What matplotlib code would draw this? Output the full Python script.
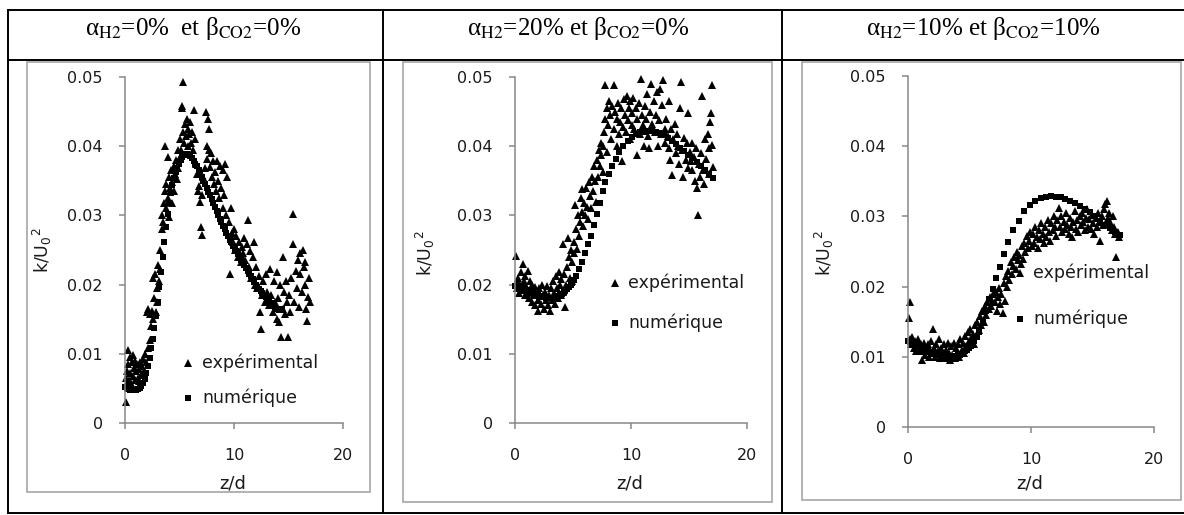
import numpy as np
import matplotlib
matplotlib.use('Agg')
import matplotlib.pyplot as plt
from matplotlib.lines import Line2D
from matplotlib.patches import Rectangle

plt.rcParams['font.family'] = ['DejaVu Sans']

W, H = 1184, 515

titles = ['α$_{\\mathrm{H2}}$=0%  et β$_{\\mathrm{CO2}}$=0%',
          'α$_{\\mathrm{H2}}$=20% et β$_{\\mathrm{CO2}}$=0%',
          'α$_{\\mathrm{H2}}$=10% et β$_{\\mathrm{CO2}}$=10%']
xticks = [0, 10, 20]
yticks = [0, 0.01, 0.02, 0.03, 0.04, 0.05]
ytick_labels = ['0', '0.01', '0.02', '0.03', '0.04', '0.05']
xlabel = 'z/d'
ylabel = 'k/U$_0$$^2$'
legend_labels = ['expérimental', 'numérique']

# panel 1 : alpha=0, beta=0  (z/d, k/U0^2)
num1 = [(0.0, 0.0052), (0.15, 0.0050), (0.3, 0.0049), (0.45, 0.0048), (0.6, 0.0048), (0.75, 0.0047),
        (0.9, 0.0047), (1.05, 0.0048), (1.2, 0.0049), (1.35, 0.0051), (1.5, 0.0054), (1.65, 0.0058),
        (1.8, 0.0064), (1.95, 0.0072), (2.1, 0.0082), (2.25, 0.0094), (2.4, 0.0108), (2.55, 0.0122),
        (2.7, 0.0138), (2.85, 0.0155), (3.0, 0.0175), (3.15, 0.0196), (3.3, 0.0218), (3.45, 0.0240),
        (3.6, 0.0262), (3.75, 0.0283), (3.9, 0.0302), (4.05, 0.0318), (4.2, 0.0332), (4.35, 0.0344),
        (4.5, 0.0354), (4.65, 0.0362), (4.8, 0.0369), (4.95, 0.0375), (5.1, 0.0380), (5.25, 0.0384),
        (5.4, 0.0387), (5.55, 0.0389), (5.7, 0.0389), (5.85, 0.0388), (6.0, 0.0386), (6.15, 0.0383),
        (6.3, 0.0379), (6.45, 0.0375), (6.6, 0.0371), (6.75, 0.0366), (6.9, 0.0361), (7.05, 0.0356),
        (7.2, 0.0350), (7.35, 0.0345), (7.5, 0.0340), (7.65, 0.0334), (7.8, 0.0329), (7.95, 0.0323),
        (8.1, 0.0318), (8.25, 0.0312), (8.4, 0.0306), (8.55, 0.0301), (8.7, 0.0295), (8.85, 0.0290),
        (9.0, 0.0285), (9.15, 0.0280), (9.3, 0.0275), (9.45, 0.0270), (9.6, 0.0265), (9.75, 0.0261),
        (9.9, 0.0256), (10.05, 0.0252), (10.2, 0.0248), (10.35, 0.0244), (10.5, 0.0240), (10.65, 0.0236),
        (10.8, 0.0232), (10.95, 0.0228), (11.1, 0.0224), (11.25, 0.0220), (11.4, 0.0216), (11.55, 0.0212),
        (11.7, 0.0208), (11.85, 0.0204), (12.0, 0.0200), (12.15, 0.0197), (12.3, 0.0194), (12.45, 0.0191),
        (12.6, 0.0188), (12.75, 0.0185), (12.9, 0.0182), (13.05, 0.0179), (13.2, 0.0176), (13.35, 0.0174),
        (13.5, 0.0171), (13.65, 0.0169), (13.8, 0.0167), (13.95, 0.0165), (14.1, 0.0164), (14.25, 0.0164),
        (14.4, 0.0165)]
exp1 = [(0.05, 0.0030), (0.1, 0.0065), (0.15, 0.0058), (0.2, 0.0075), (0.25, 0.0105), (0.3, 0.0085),
        (0.35, 0.0062), (0.45, 0.0095), (0.5, 0.0072), (0.55, 0.0058), (0.6, 0.0088), (0.7, 0.0068),
        (0.75, 0.0098), (0.8, 0.0080), (0.9, 0.0062), (0.95, 0.0090), (1.0, 0.0075), (1.1, 0.0085),
        (1.15, 0.0065), (1.25, 0.0078), (1.3, 0.0060), (1.4, 0.0088), (1.5, 0.0070), (1.55, 0.0082),
        (1.65, 0.0092), (1.75, 0.0075), (1.85, 0.0100), (1.95, 0.0088),
        (2.0, 0.0160), (2.1, 0.0108), (2.15, 0.0165), (2.25, 0.0120), (2.3, 0.0158), (2.4, 0.0140),
        (2.5, 0.0162), (2.55, 0.0150), (2.6, 0.0210), (2.65, 0.0180), (2.75, 0.0215), (2.8, 0.0160),
        (2.9, 0.0195), (2.95, 0.0175),
        (3.05, 0.0228), (3.1, 0.0205), (3.2, 0.0250), (3.25, 0.0222), (3.35, 0.0280), (3.4, 0.0300),
        (3.5, 0.0290), (3.55, 0.0318), (3.65, 0.0335), (3.7, 0.0400), (3.75, 0.0310), (3.8, 0.0345),
        (3.9, 0.0325), (3.95, 0.0385), (4.0, 0.0355),
        (4.05, 0.0298), (4.1, 0.0340), (4.2, 0.0365), (4.3, 0.0318), (4.35, 0.0348), (4.45, 0.0372),
        (4.5, 0.0335), (4.6, 0.0360), (4.7, 0.0380), (4.75, 0.0352), (4.85, 0.0395), (4.9, 0.0368),
        (5.0, 0.0385),
        (5.05, 0.0410), (5.15, 0.0395), (5.2, 0.0458), (5.25, 0.0455), (5.3, 0.0493), (5.35, 0.0420),
        (5.45, 0.0405), (5.5, 0.0432), (5.6, 0.0415), (5.65, 0.0440), (5.75, 0.0425), (5.8, 0.0400),
        (5.9, 0.0418), (5.95, 0.0435),
        (6.05, 0.0405), (6.15, 0.0420), (6.25, 0.0395), (6.35, 0.0452), (6.45, 0.0410), (6.55, 0.0375),
        (6.65, 0.0360), (6.7, 0.0335), (6.8, 0.0342), (6.9, 0.0320), (6.95, 0.0283), (7.05, 0.0272),
        (7.1, 0.0330),
        (7.2, 0.0355), (7.3, 0.0368), (7.4, 0.0449), (7.5, 0.0400), (7.55, 0.0382), (7.6, 0.0440),
        (7.7, 0.0425), (7.75, 0.0395), (7.8, 0.0370), (7.9, 0.0390), (7.95, 0.0355),
        (8.05, 0.0378), (8.15, 0.0345), (8.25, 0.0362), (8.35, 0.0335), (8.45, 0.0378), (8.55, 0.0350),
        (8.65, 0.0325), (8.75, 0.0372), (8.85, 0.0340), (8.95, 0.0310), (9.0, 0.0365),
        (9.1, 0.0330), (9.2, 0.0375), (9.3, 0.0300), (9.4, 0.0355), (9.5, 0.0290), (9.6, 0.0216),
        (9.7, 0.0310), (9.8, 0.0275), (9.9, 0.0262),
        (10.0, 0.0280), (10.1, 0.0250), (10.2, 0.0270), (10.35, 0.0240), (10.45, 0.0262), (10.6, 0.0232),
        (10.7, 0.0255), (10.8, 0.0245), (10.95, 0.0268),
        (11.05, 0.0235), (11.15, 0.0258), (11.3, 0.0293), (11.4, 0.0225), (11.5, 0.0248), (11.6, 0.0210),
        (11.7, 0.0240), (11.8, 0.0262), (11.95, 0.0200),
        (12.05, 0.0225), (12.15, 0.0195), (12.3, 0.0212), (12.4, 0.0160), (12.5, 0.0136), (12.6, 0.0185),
        (12.7, 0.0205), (12.85, 0.0175), (12.95, 0.0215),
        (13.05, 0.0190), (13.2, 0.0170), (13.3, 0.0222), (13.4, 0.0185), (13.55, 0.0160), (13.65, 0.0205),
        (13.75, 0.0175), (13.9, 0.0218), (13.95, 0.0150),
        (14.05, 0.0180), (14.15, 0.0146), (14.25, 0.0200), (14.35, 0.0124), (14.45, 0.0165), (14.5, 0.0240),
        (14.6, 0.0190), (14.7, 0.0158), (14.8, 0.0205), (14.9, 0.0175), (14.95, 0.0124),
        (15.05, 0.0185), (15.15, 0.0160), (15.25, 0.0210), (15.4, 0.0302), (15.45, 0.0259), (15.55, 0.0175),
        (15.65, 0.0220), (15.75, 0.0195), (15.85, 0.0235), (15.95, 0.0168),
        (16.05, 0.0215), (16.1, 0.0245), (16.2, 0.0190), (16.3, 0.0250), (16.4, 0.0225), (16.5, 0.0200),
        (16.55, 0.0232), (16.65, 0.0165), (16.7, 0.0148), (16.8, 0.0182), (16.9, 0.0210), (17.0, 0.0175)]

# panel 2 : alpha=20%, beta=0
num2 = [(0.0, 0.0198), (0.15, 0.0198), (0.3, 0.0197), (0.45, 0.0196), (0.6, 0.0195), (0.75, 0.0194),
        (0.9, 0.0193), (1.05, 0.0192), (1.2, 0.0190), (1.35, 0.0189), (1.5, 0.0188), (1.65, 0.0187),
        (1.8, 0.0186), (1.95, 0.0185), (2.1, 0.0184), (2.25, 0.0183), (2.4, 0.0182), (2.55, 0.0182),
        (2.7, 0.0181), (2.85, 0.0181), (3.0, 0.0181), (3.15, 0.0181), (3.3, 0.0181), (3.45, 0.0182),
        (3.6, 0.0183), (3.75, 0.0184), (3.9, 0.0185), (4.05, 0.0187), (4.2, 0.0189), (4.35, 0.0191),
        (4.5, 0.0193), (4.65, 0.0196), (4.8, 0.0199), (4.95, 0.0203), (5.1, 0.0207), (5.3, 0.0213),
        (5.55, 0.0222), (5.8, 0.0232), (6.05, 0.0245), (6.3, 0.0258), (6.55, 0.0270), (6.8, 0.0286),
        (7.05, 0.0302), (7.3, 0.0318), (7.55, 0.0335), (7.8, 0.0348), (8.1, 0.0360), (8.4, 0.0372),
        (8.7, 0.0382), (9.0, 0.0392), (9.35, 0.0400), (9.7, 0.0408), (10.05, 0.0414), (10.4, 0.0418),
        (10.75, 0.0420), (11.1, 0.0421), (11.45, 0.0422), (11.8, 0.0422), (12.15, 0.0421), (12.5, 0.0419),
        (12.85, 0.0416), (13.2, 0.0412), (13.55, 0.0408), (13.9, 0.0403), (14.25, 0.0398), (14.6, 0.0393),
        (14.95, 0.0388), (15.3, 0.0383), (15.65, 0.0377), (16.0, 0.0371), (16.35, 0.0365), (16.7, 0.0360),
        (17.1, 0.0354)]
exp2 = [(0.1, 0.0242), (0.15, 0.0205), (0.2, 0.0195), (0.3, 0.0210), (0.35, 0.0188), (0.45, 0.0200),
        (0.5, 0.0218), (0.6, 0.0192), (0.7, 0.0230), (0.75, 0.0205), (0.85, 0.0185), (0.9, 0.0212),
        (0.95, 0.0198),
        (1.05, 0.0188), (1.1, 0.0220), (1.2, 0.0180), (1.3, 0.0205), (1.35, 0.0192), (1.45, 0.0175),
        (1.5, 0.0200), (1.6, 0.0185), (1.7, 0.0196), (1.75, 0.0170), (1.85, 0.0188), (1.95, 0.0178),
        (2.0, 0.0162), (2.05, 0.0195), (2.15, 0.0183), (2.25, 0.0172), (2.35, 0.0200), (2.4, 0.0185),
        (2.5, 0.0165), (2.6, 0.0190), (2.7, 0.0178), (2.75, 0.0198), (2.85, 0.0170), (2.95, 0.0185),
        (3.05, 0.0162), (3.1, 0.0195), (3.2, 0.0178), (3.3, 0.0205), (3.35, 0.0188), (3.45, 0.0172),
        (3.5, 0.0212), (3.6, 0.0195), (3.7, 0.0180), (3.75, 0.0218), (3.85, 0.0200), (3.95, 0.0185),
        (4.0, 0.0208), (4.1, 0.0190), (4.15, 0.0258), (4.25, 0.0215), (4.3, 0.0168), (4.4, 0.0200),
        (4.5, 0.0225), (4.55, 0.0268), (4.65, 0.0240), (4.75, 0.0210), (4.85, 0.0250), (4.9, 0.0232),
        (4.95, 0.0205),
        (5.05, 0.0245), (5.1, 0.0262), (5.2, 0.0315), (5.25, 0.0280), (5.35, 0.0252), (5.45, 0.0300),
        (5.5, 0.0270), (5.6, 0.0290), (5.65, 0.0325), (5.75, 0.0305), (5.8, 0.0338), (5.9, 0.0285),
        (5.95, 0.0318),
        (6.05, 0.0300), (6.15, 0.0340), (6.2, 0.0312), (6.3, 0.0295), (6.4, 0.0348), (6.5, 0.0328),
        (6.55, 0.0310), (6.65, 0.0355), (6.75, 0.0335), (6.85, 0.0372), (6.9, 0.0350), (6.95, 0.0320),
        (7.05, 0.0380), (7.15, 0.0355), (7.2, 0.0395), (7.3, 0.0372), (7.4, 0.0405), (7.45, 0.0388),
        (7.55, 0.0362), (7.6, 0.0400), (7.7, 0.0420), (7.75, 0.0440), (7.8, 0.0488), (7.9, 0.0455),
        (7.95, 0.0392),
        (8.05, 0.0430), (8.1, 0.0465), (8.2, 0.0445), (8.3, 0.0410), (8.4, 0.0458), (8.5, 0.0488),
        (8.55, 0.0425), (8.65, 0.0450), (8.75, 0.0400), (8.8, 0.0440), (8.9, 0.0462), (8.95, 0.0418),
        (9.05, 0.0435), (9.15, 0.0455), (9.2, 0.0378), (9.3, 0.0428), (9.4, 0.0468), (9.5, 0.0445),
        (9.6, 0.0420), (9.65, 0.0472), (9.75, 0.0438), (9.85, 0.0455), (9.9, 0.0410), (9.95, 0.0465),
        (10.05, 0.0430), (10.1, 0.0448), (10.2, 0.0470), (10.3, 0.0425), (10.4, 0.0455), (10.5, 0.0388),
        (10.55, 0.0440), (10.65, 0.0462), (10.75, 0.0418), (10.85, 0.0497), (10.95, 0.0445),
        (11.05, 0.0430), (11.1, 0.0400), (11.2, 0.0458), (11.3, 0.0440), (11.4, 0.0475), (11.5, 0.0415),
        (11.55, 0.0398), (11.65, 0.0450), (11.75, 0.0490), (11.85, 0.0432), (11.95, 0.0465),
        (12.05, 0.0420), (12.15, 0.0445), (12.25, 0.0478), (12.35, 0.0400), (12.45, 0.0438), (12.5, 0.0482),
        (12.6, 0.0418), (12.7, 0.0460), (12.8, 0.0495), (12.9, 0.0425), (12.95, 0.0405),
        (13.05, 0.0440), (13.15, 0.0415), (13.25, 0.0398), (13.3, 0.0465), (13.4, 0.0380), (13.45, 0.0425),
        (13.55, 0.0358), (13.65, 0.0410), (13.75, 0.0432), (13.85, 0.0390), (13.95, 0.0418),
        (14.05, 0.0400), (14.1, 0.0375), (14.2, 0.0455), (14.3, 0.0493), (14.4, 0.0395), (14.5, 0.0355),
        (14.6, 0.0412), (14.7, 0.0380), (14.8, 0.0405), (14.9, 0.0448), (14.95, 0.0368),
        (15.05, 0.0392), (15.15, 0.0378), (15.25, 0.0405), (15.3, 0.0365), (15.4, 0.0385), (15.5, 0.0350),
        (15.6, 0.0398), (15.7, 0.0340), (15.75, 0.0300), (15.85, 0.0375), (15.95, 0.0355),
        (16.05, 0.0390), (16.1, 0.0472), (16.2, 0.0365), (16.3, 0.0345), (16.4, 0.0410), (16.5, 0.0382),
        (16.6, 0.0418), (16.7, 0.0360), (16.75, 0.0398), (16.85, 0.0435), (16.9, 0.0448), (16.95, 0.0488),
        (17.0, 0.0402), (17.05, 0.0370)]

# panel 3 : alpha=10%, beta=10%
num3 = [(0.0, 0.0122), (0.15, 0.0121), (0.3, 0.0120), (0.45, 0.0118), (0.6, 0.0117), (0.75, 0.0116),
        (0.9, 0.0114), (1.05, 0.0113), (1.2, 0.0112), (1.35, 0.0110), (1.5, 0.0109), (1.65, 0.0108),
        (1.8, 0.0107), (1.95, 0.0105), (2.1, 0.0104), (2.25, 0.0103), (2.4, 0.0102), (2.55, 0.0102),
        (2.7, 0.0101), (2.85, 0.0100), (3.0, 0.0100), (3.15, 0.0100), (3.3, 0.0100), (3.45, 0.0100),
        (3.6, 0.0100), (3.75, 0.0100), (3.9, 0.0101), (4.05, 0.0102), (4.2, 0.0103), (4.35, 0.0104),
        (4.5, 0.0106), (4.65, 0.0108), (4.8, 0.0110), (4.95, 0.0112), (5.1, 0.0115), (5.25, 0.0118),
        (5.4, 0.0122), (5.6, 0.0128), (5.8, 0.0135), (6.1, 0.0150), (6.35, 0.0165), (6.6, 0.0182),
        (6.9, 0.0197), (7.15, 0.0212), (7.45, 0.0228), (7.8, 0.0246), (8.15, 0.0264), (8.55, 0.0280),
        (9.0, 0.0294), (9.45, 0.0307), (9.9, 0.0316), (10.35, 0.0322), (10.8, 0.0326), (11.2, 0.0328),
        (11.6, 0.0329), (12.0, 0.0328), (12.4, 0.0327), (12.8, 0.0325), (13.2, 0.0322), (13.6, 0.0319),
        (14.0, 0.0315), (14.4, 0.0311), (14.8, 0.0306), (15.2, 0.0300), (15.6, 0.0294), (16.0, 0.0288),
        (16.4, 0.0283), (16.8, 0.0278), (17.2, 0.0274)]
exp3 = [(0.1, 0.0155), (0.2, 0.0178), (0.15, 0.0125), (0.25, 0.0118), (0.35, 0.0128), (0.45, 0.0112),
        (0.55, 0.0122), (0.65, 0.0108), (0.75, 0.0118), (0.85, 0.0125), (0.95, 0.0110),
        (1.05, 0.0118), (1.1, 0.0095), (1.2, 0.0108), (1.3, 0.0120), (1.4, 0.0102), (1.5, 0.0112),
        (1.6, 0.0118), (1.7, 0.0100), (1.8, 0.0110), (1.9, 0.0122), (1.95, 0.0105),
        (2.0, 0.0140), (2.1, 0.0112), (2.2, 0.0100), (2.3, 0.0118), (2.4, 0.0108), (2.5, 0.0125),
        (2.6, 0.0098), (2.7, 0.0112), (2.8, 0.0104), (2.9, 0.0118), (2.95, 0.0100),
        (3.05, 0.0110), (3.15, 0.0098), (3.25, 0.0120), (3.35, 0.0105), (3.45, 0.0095), (3.5, 0.0115),
        (3.6, 0.0102), (3.7, 0.0120), (3.8, 0.0098), (3.9, 0.0112), (3.95, 0.0105),
        (4.05, 0.0118), (4.15, 0.0100), (4.25, 0.0125), (4.35, 0.0110), (4.45, 0.0120), (4.55, 0.0105),
        (4.65, 0.0130), (4.75, 0.0115), (4.85, 0.0135), (4.95, 0.0122),
        (5.05, 0.0140), (5.15, 0.0125), (5.25, 0.0132), (5.35, 0.0118), (5.45, 0.0145), (5.55, 0.0130),
        (5.65, 0.0150), (5.75, 0.0138), (5.85, 0.0158), (5.95, 0.0145),
        (6.05, 0.0165), (6.15, 0.0150), (6.25, 0.0172), (6.35, 0.0160), (6.45, 0.0178), (6.55, 0.0168),
        (6.65, 0.0185), (6.75, 0.0172), (6.85, 0.0180), (6.95, 0.0190),
        (7.05, 0.0178), (7.15, 0.0192), (7.2, 0.0165), (7.3, 0.0185), (7.4, 0.0198), (7.5, 0.0175),
        (7.6, 0.0190), (7.7, 0.0162), (7.8, 0.0205), (7.9, 0.0180), (7.95, 0.0215),
        (8.05, 0.0200), (8.15, 0.0222), (8.25, 0.0210), (8.35, 0.0235), (8.45, 0.0218), (8.55, 0.0230),
        (8.65, 0.0242), (8.75, 0.0225), (8.85, 0.0250), (8.95, 0.0238),
        (9.05, 0.0245), (9.15, 0.0232), (9.25, 0.0258), (9.35, 0.0240), (9.45, 0.0262), (9.55, 0.0250),
        (9.65, 0.0272), (9.75, 0.0255), (9.85, 0.0265), (9.95, 0.0278),
        (10.05, 0.0258), (10.15, 0.0275), (10.25, 0.0262), (10.35, 0.0285), (10.45, 0.0270), (10.55, 0.0255),
        (10.65, 0.0280), (10.75, 0.0268), (10.85, 0.0290), (10.95, 0.0275),
        (11.05, 0.0262), (11.15, 0.0285), (11.25, 0.0270), (11.35, 0.0295), (11.45, 0.0278), (11.55, 0.0265),
        (11.65, 0.0290), (11.75, 0.0280), (11.85, 0.0300), (11.95, 0.0285),
        (12.05, 0.0272), (12.15, 0.0295), (12.25, 0.0312), (12.35, 0.0285), (12.45, 0.0300), (12.55, 0.0278),
        (12.65, 0.0292), (12.75, 0.0282), (12.85, 0.0305), (12.95, 0.0288),
        (13.05, 0.0275), (13.15, 0.0298), (13.25, 0.0285), (13.35, 0.0270), (13.45, 0.0292), (13.55, 0.0308),
        (13.65, 0.0282), (13.75, 0.0295), (13.85, 0.0278), (13.95, 0.0300),
        (14.05, 0.0288), (14.15, 0.0305), (14.25, 0.0292), (14.35, 0.0280), (14.45, 0.0298), (14.55, 0.0310),
        (14.65, 0.0285), (14.75, 0.0296), (14.85, 0.0282), (14.95, 0.0302),
        (15.05, 0.0290), (15.15, 0.0275), (15.25, 0.0298), (15.35, 0.0285), (15.45, 0.0305), (15.55, 0.0292),
        (15.65, 0.0265), (15.75, 0.0300), (15.85, 0.0288), (15.95, 0.0310),
        (16.05, 0.0318), (16.15, 0.0322), (16.25, 0.0298), (16.35, 0.0305), (16.45, 0.0292), (16.55, 0.0280),
        (16.65, 0.0300), (16.75, 0.0285), (16.85, 0.0275), (16.95, 0.0242), (17.05, 0.0278), (17.15, 0.0270)]

panels = [(exp1, num1), (exp2, num2), (exp3, num3)]

# layout in pixels of the original picture
axes_px = [(125, 77, 343, 423), (515, 77, 747, 423), (908, 76, 1154, 427)]   # x0, ytop, x1, ybottom
frames_px = [(27, 62, 370, 492), (403, 62, 772, 502), (802, 62, 1181, 500)]
title_x = [193, 578, 983]
xlab_px = [(233, 483), (630, 483), (1030, 483)]
ylab_px = [(42, 250), (425, 253), (824, 253)]
leg_px = [(188, 363, 398, 202), (615, 283, 323, 628), (1020, 273, 319, 1033)]  # marker x, y exp, y num, text x

def fx(p):
    return p / W

def fy(p):
    return 1 - p / H

fig = plt.figure(figsize=(W / 100, H / 100), dpi=100)
fig.patch.set_facecolor('white')

# table grid
line_kw = dict(color='black', lw=1.4, transform=fig.transFigure)
for yy in (10, 60, 513):
    fig.add_artist(Line2D([fx(8), 1], [fy(yy), fy(yy)], **line_kw))
for xx in (8, 383, 782):
    fig.add_artist(Line2D([fx(xx), fx(xx)], [fy(10), fy(513)], **line_kw))

tcol = '#1a1a1a'
spine_col = '#878787'

for i, (exp, num) in enumerate(panels):
    fig.text(fx(title_x[i]), fy(29), titles[i], ha='center', va='center', fontsize=18,
             family='Liberation Serif', math_fontfamily='stix', color='black')

    x0, y0, x1, y1 = frames_px[i]
    fig.add_artist(Rectangle((fx(x0), fy(y1)), fx(x1 - x0), (y1 - y0) / H, fill=False,
                             edgecolor='#a6a6a6', lw=1.2, transform=fig.transFigure))

    a0, at, a1, ab = axes_px[i]
    ax = fig.add_axes([fx(a0), fy(ab), fx(a1 - a0), (ab - at) / H])
    ex = np.array(exp)
    nu = np.array(num)
    ax.plot(nu[:, 0], nu[:, 1], 's', color='black', ms=4.5, mew=0, clip_on=False)
    ax.plot(ex[:, 0], ex[:, 1], '^', color='black', ms=6, mew=0, clip_on=False)

    ax.set_xlim(0, 20)
    ax.set_ylim(0, 0.05)
    ax.set_xticks(xticks)
    ax.set_yticks(yticks)
    ax.set_yticklabels(ytick_labels)
    for s in ('top', 'right'):
        ax.spines[s].set_visible(False)
    for s in ('left', 'bottom'):
        ax.spines[s].set_color(spine_col)
        ax.spines[s].set_linewidth(1.1)
    ax.tick_params(axis='y', direction='out', length=4, width=1.1, color=spine_col,
                   labelsize=11.5, labelcolor=tcol, pad=12)
    ax.tick_params(axis='x', direction='out', length=4, width=1.1, color=spine_col,
                   labelsize=11.5, labelcolor=tcol, pad=14)
    ax.patch.set_alpha(0)

    fig.text(fx(xlab_px[i][0]), fy(xlab_px[i][1]), xlabel, ha='center', va='center',
             fontsize=13, color=tcol)
    fig.text(fx(ylab_px[i][0]), fy(ylab_px[i][1]), ylabel, ha='center', va='center',
             rotation=90, fontsize=12.5, color=tcol, math_fontfamily='dejavusans')

    mx, ye, yn, tx = leg_px[i]
    fig.add_artist(Line2D([fx(mx)], [fy(ye)], marker='^', ms=6, color='black', mew=0,
                          transform=fig.transFigure))
    fig.add_artist(Line2D([fx(mx)], [fy(yn)], marker='s', ms=4.5, color='black', mew=0,
                          transform=fig.transFigure))
    fig.text(fx(tx), fy(ye), legend_labels[0], ha='left', va='center', fontsize=12.5, color=tcol)
    fig.text(fx(tx), fy(yn), legend_labels[1], ha='left', va='center', fontsize=12.5, color=tcol)

fig.savefig('out.png', dpi=100)
